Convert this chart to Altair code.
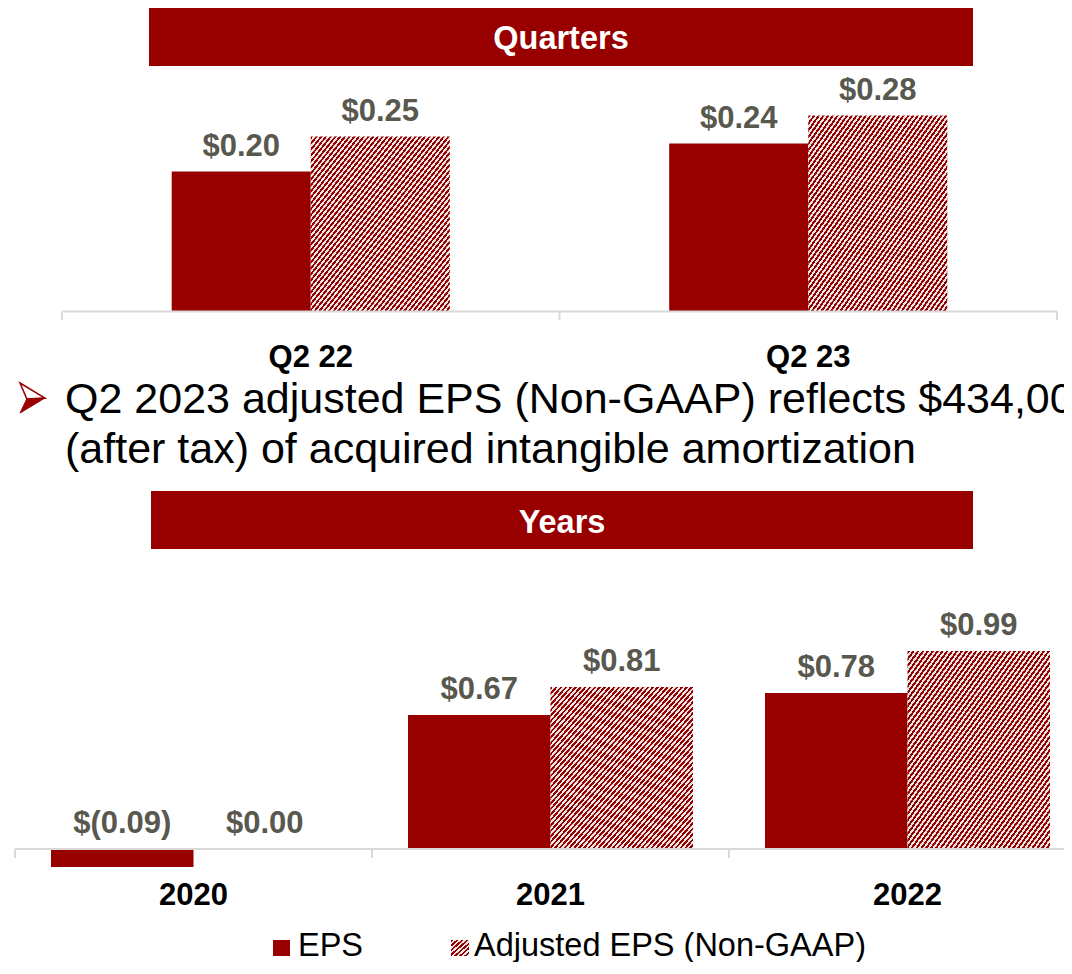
import altair as alt
import pandas as pd

# ---------------- data ----------------
quarters = ["Q2 22", "Q2 23"]
quarter_eps = [0.20, 0.24]
quarter_adj = [0.25, 0.28]

years = ["2020", "2021", "2022"]
year_eps = [-0.09, 0.67, 0.78]
year_adj = [0.00, 0.81, 0.99]

series = ["EPS", "Adjusted EPS (Non-GAAP)"]
panel_titles = ["Quarters", "Years"]
bullet_lines = [
    "Q2 2023 adjusted EPS (Non-GAAP) reflects $434,000",
    "(after tax) of acquired intangible amortization",
]

# ---------------- style ----------------
RED = "#980000"
LIGHT = "#e6e6e6"
LABEL = "#58584f"
AXIS = "#d9d9d9"
FONT = "Liberation Sans"


def fmt(v):
    return f"$({abs(v):.2f})" if v < 0 else f"${v:.2f}"


def hatch(n):
    stops = []
    for i in range(n):
        a, b, c = i / n, (i + 0.5) / n, (i + 1) / n
        stops += [
            alt.GradientStop(offset=a, color=RED),
            alt.GradientStop(offset=b, color=RED),
            alt.GradientStop(offset=b, color=LIGHT),
            alt.GradientStop(offset=c, color=LIGHT),
        ]
    return alt.LinearGradient(gradient="linear", x1=0, y1=0, x2=1, y2=1, stops=stops)


def panel(cats, eps, adj, field, xrange, group_frac, ydomain, yrange, cat_y, tick_bottom):
    """Return a flat list of layers for one panel of grouped bars."""
    n = len(cats)
    span = xrange[1] - xrange[0]
    step = span / n
    bar_w = step * group_frac / 2
    p_in = 1 - bar_w / step
    shift = bar_w / 2

    ys = alt.Scale(domain=ydomain, range=yrange, zero=False, nice=False)
    layers = []
    for s, vals, fill, sgn in [(series[0], eps, RED, -1), (series[1], adj, None, 1)]:
        df = pd.DataFrame({field: cats, "value": vals, "label": [fmt(v) for v in vals]})
        xs = alt.Scale(domain=cats, range=[xrange[0] + sgn * shift, xrange[1] + sgn * shift],
                       paddingInner=p_in, paddingOuter=p_in / 2)
        X = alt.X(f"{field}:N", scale=xs, axis=None)
        if fill is None:
            bar_mark = alt.Chart(df).mark_bar(fill=hatch(59))
        else:
            bar_mark = alt.Chart(df).mark_bar(color=fill)
        layers.append(bar_mark.encode(
            x=X, y=alt.Y("value:Q", scale=ys, axis=None), y2=alt.Y2Datum(0)))
        layers.append(alt.Chart(df).transform_calculate(pos="max(datum.value, 0)").mark_text(
            font=FONT, fontSize=31, fontWeight="bold", color=LABEL, dy=-16, baseline="alphabetic"
        ).encode(x=X, y=alt.Y("pos:Q", scale=ys, axis=None), text="label:N"))

    # axis line and boundary ticks
    bounds = pd.DataFrame({"b": list(range(n + 1))})
    xb = alt.Scale(domain=[0, n], range=xrange, zero=False, nice=False)
    layers.append(alt.Chart(bounds).mark_rule(color=AXIS, strokeWidth=2).transform_filter(
        alt.datum.b == 0).transform_calculate(e=str(n)).encode(
        x=alt.X("b:Q", scale=xb, axis=None), x2="e:Q",
        y=alt.YDatum(0, scale=ys, axis=None)))
    layers.append(alt.Chart(bounds).mark_rule(color=AXIS, strokeWidth=2).encode(
        x=alt.X("b:Q", scale=xb, axis=None), y=alt.YDatum(0, scale=ys, axis=None),
        y2=alt.value(tick_bottom)))

    # category labels
    cat_df = pd.DataFrame({field: cats})
    xc = alt.Scale(domain=cats, range=xrange, paddingInner=0, paddingOuter=0)
    layers.append(alt.Chart(cat_df).mark_text(
        font=FONT, fontSize=31, fontWeight="bold", color="black", baseline="alphabetic"
    ).encode(x=alt.X(f"{field}:N", scale=xc, axis=None), y=alt.value(cat_y), text=f"{field}:N"))
    return layers


def header(title, x0, x1, y0, y1, ty):
    df = pd.DataFrame({"title": [title]})
    bar = alt.Chart(df).mark_rect(color=RED).encode(
        x=alt.value(x0), x2=alt.value(x1), y=alt.value(y0), y2=alt.value(y1)
    )
    txt = alt.Chart(df).mark_text(
        font=FONT, fontSize=32.5, fontWeight="bold", color="white", baseline="alphabetic"
    ).encode(x=alt.value((x0 + x1) / 2), y=alt.value(ty), text="title:N")
    return [bar, txt]


top = panel(quarters, quarter_eps, quarter_adj, "quarter",
            [54, 1049], 0.559, [0, 0.4], [303.5, 23.5], 359, 312)
bottom = panel(years, year_eps, year_adj, "year",
               [7, 1078], 0.7983, [-0.2, 1.2], [881, 601], 897, 850)

h1 = header(panel_titles[0], 141, 965, 0, 58, 41)
h2 = header(panel_titles[1], 143, 965, 483, 541, 525)

# bullet arrowhead (two facets) drawn as custom symbols
arrow_df = pd.DataFrame({"facet": ["upper", "lower"]})
arrow_up = alt.Chart(arrow_df.head(1)).mark_point(
    shape="M -0.83 -1 L 0.83 0 L -0.38 0.06 Z", size=900, filled=True,
    fill="white", stroke=RED, strokeWidth=1.5, opacity=1
).encode(x=alt.value(24.5), y=alt.value(390))
arrow_low = alt.Chart(arrow_df.tail(1)).mark_point(
    shape="M -0.38 0.06 L 0.83 0 L -0.83 1 Z", size=900, filled=True,
    fill=RED, stroke=RED, strokeWidth=1, opacity=1
).encode(x=alt.value(24.5), y=alt.value(390))

line1 = alt.Chart(pd.DataFrame({"line": [bullet_lines[0]]})).mark_text(
    font=FONT, fontSize=43, color="black", align="left", baseline="alphabetic"
).encode(x=alt.value(57), y=alt.value(405), text="line:N")
line2 = alt.Chart(pd.DataFrame({"line": [bullet_lines[1]]})).mark_text(
    font=FONT, fontSize=43, color="black", align="left", baseline="alphabetic"
).encode(x=alt.value(57), y=alt.value(455), text="line:N")

LEG_BASE = 948
leg_eps_df = pd.DataFrame({"series": [series[0]]})
leg_adj_df = pd.DataFrame({"series": [series[1]]})
leg_eps_box = alt.Chart(leg_eps_df).mark_rect(color=RED).encode(
    x=alt.value(265), x2=alt.value(282), y=alt.value(LEG_BASE - 16), y2=alt.value(LEG_BASE)
)
leg_adj_box = alt.Chart(leg_adj_df).mark_rect(fill=hatch(7)).encode(
    x=alt.value(443), x2=alt.value(461), y=alt.value(LEG_BASE - 16), y2=alt.value(LEG_BASE)
)
leg_eps_text = alt.Chart(leg_eps_df).mark_text(
    font=FONT, fontSize=32.5, color="black", align="left", baseline="alphabetic"
).encode(x=alt.value(290), y=alt.value(LEG_BASE), text="series:N")
leg_adj_text = alt.Chart(leg_adj_df).mark_text(
    font=FONT, fontSize=32.5, color="black", align="left", baseline="alphabetic"
).encode(x=alt.value(466), y=alt.value(LEG_BASE), text="series:N")

chart = alt.layer(
    *h1, *top, arrow_up, arrow_low, line1, line2, *h2, *bottom,
    leg_eps_box, leg_adj_box, leg_eps_text, leg_adj_text
).resolve_scale(
    x="independent", y="independent"
).properties(
    width=1056, height=954, padding=0, autosize="none"
).configure_view(stroke=None)

chart.save("out.html", embed_options={"renderer": "svg", "actions": False})
